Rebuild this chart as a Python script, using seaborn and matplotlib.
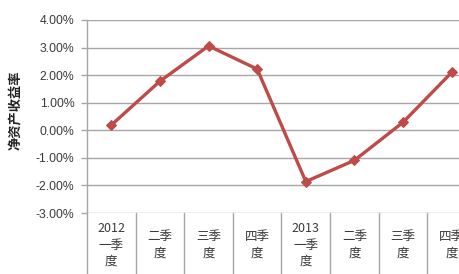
import matplotlib
matplotlib.use("Agg")
import matplotlib.pyplot as plt
import matplotlib.transforms as mtransforms
from matplotlib.lines import Line2D
import seaborn as sns
import pandas as pd
import numpy as np

categories = ["2012\n一季\n度", "二季\n度", "三季\n度", "四季\n度",
              "2013\n一季\n度", "二季\n度", "三季\n度", "四季\n度"]
roe = [0.19, 1.78, 3.06, 2.22, -1.86, -1.09, 0.29, 2.10]
yticks = [-3, -2, -1, 0, 1, 2, 3, 4]
ylabel = "净资产收益率"

sns.set_theme(style="white")
plt.rcParams['font.family'] = ['Noto Sans CJK SC', 'DejaVu Sans']

df = pd.DataFrame({"pos": np.arange(len(categories)), "roe": roe})

fig = plt.figure(figsize=(4.6, 2.74), dpi=100)
ax = fig.add_axes([87/460, 61/274, (476-87)/460, (213-20)/274])

sns.lineplot(data=df, x="pos", y="roe", ax=ax, color="#BE4B48", linewidth=2.4,
             marker="D", markersize=5.5, markeredgecolor="#BE4B48")

ax.set_xlim(-0.5, len(categories) - 0.5)
ax.set_ylim(yticks[0], yticks[-1])
ax.set_yticks(yticks)
ax.set_yticklabels([f"{v:.2f}%" for v in yticks], fontsize=8.8, color="#3A3A3A",
                   family=['Liberation Sans', 'DejaVu Sans'])
ax.yaxis.grid(True, color="#A6A6A6", linewidth=1.0)
ax.set_axisbelow(True)
ax.tick_params(axis='y', which='both', left=True, length=4, width=1,
               color="#A6A6A6", pad=5)
ax.set_xticks([])
ax.set_xlabel("")
ax.set_ylabel(ylabel, fontsize=9.5, fontweight='bold', color="#222222")
ax.yaxis.set_label_coords(-64/389, (213-110)/193)

for side in ["top", "right", "bottom"]:
    ax.spines[side].set_visible(False)
ax.spines["left"].set_color("#A6A6A6")
ax.spines["left"].set_linewidth(1.0)

# category table below the plot
trans = mtransforms.blended_transform_factory(ax.transData, ax.transAxes)
for i in range(len(categories) + 1):
    ax.add_line(Line2D([i - 0.5, i - 0.5], [0, -0.5], transform=trans,
                       color="#A6A6A6", linewidth=1.0, clip_on=False))
for i, lab in enumerate(categories):
    ax.text(i, -32/193, lab, transform=trans, ha='center', va='center',
            fontsize=9, color="#3A3A3A", linespacing=1.35)

fig.savefig("out.png", dpi=100)
